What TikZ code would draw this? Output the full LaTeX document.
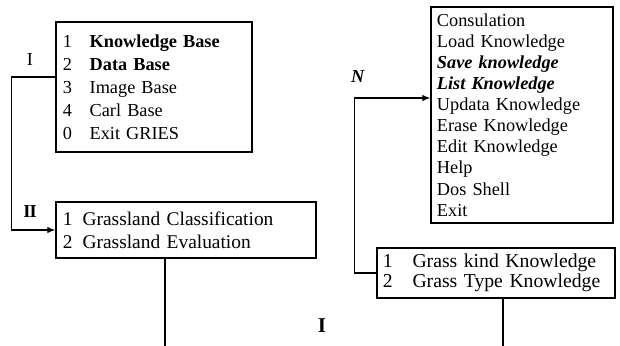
\documentclass[tikz,border=0pt]{standalone}
\usepackage{fontspec}
\setmainfont{Liberation Serif}
\usetikzlibrary{arrows.meta,positioning}

\begin{document}
\begin{tikzpicture}[
  x=0.025cm, y=-0.025cm,
  menu/.style={draw=black, line width=0.9pt, align=left, inner ysep=0pt, font=\fontsize{13}{16.3}\selectfont},
  arr/.style={-{Latex[length=2mm,width=1.6mm]}, line width=0.8pt},
  wire/.style={line width=0.8pt},
  lab/.style={font=\fontsize{13}{15}\selectfont},
]
\useasboundingbox (0,0) rectangle (620,346);

% main menu
\node[menu, text width=4.55cm, inner xsep=0.175cm, minimum height=3.25cm] (main) at (154,87) {%
  \makebox[19pt][l]{1}\textbf{Knowledge Base}\\
  \makebox[19pt][l]{2}\textbf{Data Base}\\
  \makebox[19pt][l]{3}Image Base\\
  \makebox[19pt][l]{4}Carl Base\\
  \makebox[19pt][l]{0}Exit GRIES};

% grassland menu
\node[menu, text width=6.15cm, inner xsep=0.175cm, minimum height=1.4cm, font=\fontsize{13.8}{16.3}\selectfont] (grass) at (186,230) {%
  \makebox[14pt][l]{1}Grassland Classification\\
  \makebox[14pt][l]{2}Grassland Evaluation};

% knowledge menu
\node[menu, text width=4.25cm, inner xsep=0.15cm, minimum height=5.4cm, font=\fontsize{13}{15}\selectfont] (know) at (522,115) {%
  Consulation\\
  Load Knowledge\\
  \textbf{\textit{Save knowledge}}\\
  \textbf{\textit{List Knowledge}}\\
  Updata Knowledge\\
  Erase Knowledge\\
  Edit Knowledge\\
  Help\\
  Dos Shell\\
  Exit};

% grass knowledge menu
\node[menu, text width=5.65cm, inner xsep=0.15cm, minimum height=1.25cm, font=\fontsize{14}{14.2}\selectfont] (gkind) at (496,273) {%
  \makebox[21pt][l]{1}Grass kind Knowledge\\
  \makebox[21pt][l]{2}Grass Type Knowledge};

\coordinate (low) at (0,346);

% connectors
\draw[arr] ([yshift=0.25cm]main.west) -- ++(-44,0) |- (grass.west);
\draw[arr] (gkind.west) -- ++(-22,0) |- ([yshift=0.425cm]know.west);
\draw[wire] ([xshift=-0.525cm]grass.south) -- ([xshift=-0.525cm]grass.south |- low);
\draw[wire] ([xshift=0.175cm]gkind.south) -- ([xshift=0.175cm]gkind.south |- low);

% labels
\node[lab] (l1) at (30,60) {I};
\node[lab] (l2) at (30,212) {\textbf{I\kern-0.6pt I}};
\node[lab] (l4) at (358,77) {\textbf{\textit{N}}};
\node[lab, font=\fontsize{15}{15}\selectfont] (l3) at (322,326) {\textbf{I}};
\end{tikzpicture}
\end{document}
